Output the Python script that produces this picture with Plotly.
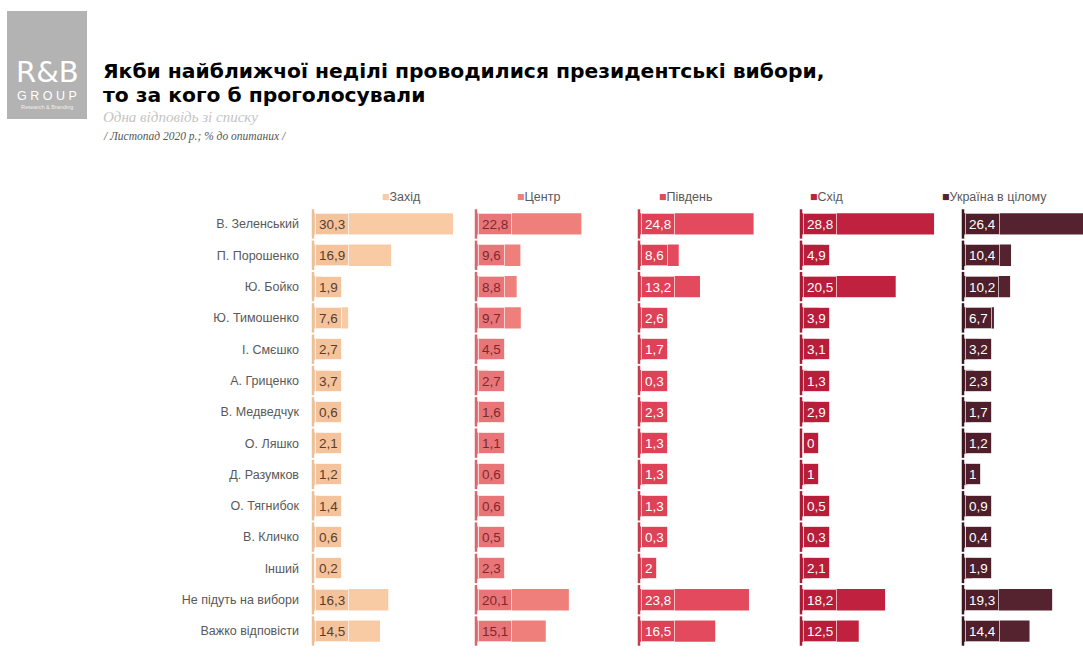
import plotly.graph_objects as go
from plotly.subplots import make_subplots

W, H = 1083, 670

categories = ["В. Зеленський", "П. Порошенко", "Ю. Бойко", "Ю. Тимошенко", "І. Смєшко",
              "А. Гриценко", "В. Медведчук", "О. Ляшко", "Д. Разумков", "О. Тягнибок",
              "В. Кличко", "Інший", "Не підуть на вибори", "Важко відповісти"]

region_names = ["Захід", "Центр", "Південь", "Схід", "Україна в цілому"]

zakhid = [30.3, 16.9, 1.9, 7.6, 2.7, 3.7, 0.6, 2.1, 1.2, 1.4, 0.6, 0.2, 16.3, 14.5]
tsentr = [22.8, 9.6, 8.8, 9.7, 4.5, 2.7, 1.6, 1.1, 0.6, 0.6, 0.5, 2.3, 20.1, 15.1]
pivden = [24.8, 8.6, 13.2, 2.6, 1.7, 0.3, 2.3, 1.3, 1.3, 1.3, 0.3, 2, 23.8, 16.5]
skhid = [28.8, 4.9, 20.5, 3.9, 3.1, 1.3, 2.9, 0, 1, 0.5, 0.3, 2.1, 18.2, 12.5]
ukraina = [26.4, 10.4, 10.2, 6.7, 3.2, 2.3, 1.7, 1.2, 1, 0.9, 0.4, 1.9, 19.3, 14.4]

series = [zakhid, tsentr, pivden, skhid, ukraina]

title_lines = ["Якби найближчої неділі проводилися президентські вибори,",
               "то за кого б проголосували"]
subtitle = "Одна відповідь зі списку"
note = "/ Листопад 2020 р.; % до опитаних /"

bar_colors = ["#F8CBA4", "#EE7F7A", "#E34A5E", "#C0213F", "#55232F"]
box_colors = ["#F4C39B", "#E97578", "#DE4257", "#B81D3A", "#4E1F2B"]
line_colors = ["#E9C09C", "#D9686C", "#C93A4E", "#A51A35", "#3A1720"]
text_colors = ["#5A3D2B", "#7A2A2E", "#FFFFFF", "#FFFFFF", "#FFFFFF"]

# pixel layout
scale = 4.62  # px per percent
panel_x0 = [313, 476, 639, 801, 963]
panel_x1 = [473, 636, 799, 961, 1083]
legend_x = [380, 515, 657, 808, 940]
row_top, row_bottom = 208.3, 646.7

fig = make_subplots(rows=1, cols=5, shared_yaxes=False, horizontal_spacing=0.0)

def fmt(v):
    return f"{v:g}".replace(".", ",")

for i, vals in enumerate(series):
    col = i + 1
    fig.add_trace(go.Bar(
        x=vals, y=categories, orientation="h",
        marker=dict(color=bar_colors[i], line=dict(width=0)),
        width=0.68, hoverinfo="x+y", showlegend=False,
    ), row=1, col=col)
    fig.add_trace(go.Scatter(
        x=[0] * len(categories), y=categories, mode="markers",
        marker=dict(symbol="line-ns", size=21, line=dict(width=2.5, color=line_colors[i])),
        cliponaxis=False, hoverinfo="skip", showlegend=False,
    ), row=1, col=col)
    xa = "x" if i == 0 else f"x{col}"
    ya = "y" if i == 0 else f"y{col}"
    for cat, v in zip(categories, vals):
        fig.add_annotation(
            xref=xa, yref=ya, x=0, y=cat, xanchor="left", yanchor="middle",
            xshift=2, text=fmt(v), showarrow=False,
            font=dict(family="Liberation Sans, Arial", size=13.5, color=text_colors[i]),
            bgcolor=box_colors[i], bordercolor="rgba(255,255,255,0.65)",
            borderwidth=1, borderpad=3, height=14,
        )
    # legend entry
    fig.add_annotation(
        xref="paper", yref="paper", x=legend_x[i] / W, y=(H - 197) / H,
        xanchor="left", yanchor="middle", showarrow=False,
        text=f"<span style='color:{bar_colors[i]}'>■</span>{region_names[i]}",
        font=dict(family="Liberation Sans, Arial", size=12.5, color="#595959"),
    )

for i in range(5):
    col = i + 1
    dom = [panel_x0[i] / W, panel_x1[i] / W]
    rng = [0, (panel_x1[i] - panel_x0[i]) / scale]
    fig.update_xaxes(domain=dom, range=rng, visible=False, fixedrange=True, row=1, col=col)
    fig.update_yaxes(
        domain=[(H - row_bottom) / H, (H - row_top) / H],
        categoryorder="array", categoryarray=categories, range=[13.5, -0.5],
        showgrid=False, zeroline=False, showline=False, ticks="",
        showticklabels=(i == 0), ticklabelstandoff=13,
        tickfont=dict(family="Liberation Sans, Arial", size=12.5, color="#595959"),
        row=1, col=col,
    )

# Title & subtitles
for line, ypx in zip(title_lines, [70.5, 94.5]):
    fig.add_annotation(xref="paper", yref="paper", x=101 / W, y=(H - ypx) / H,
                       xanchor="left", yanchor="middle", showarrow=False, align="left",
                       text=f"<b>{line}</b>",
                       font=dict(family="DejaVu Sans, Liberation Sans", size=20.3, color="#000000"))
fig.add_annotation(xref="paper", yref="paper", x=101 / W, y=(H - 117) / H,
                   xanchor="left", yanchor="middle", showarrow=False,
                   text=f"<i>{subtitle}</i>",
                   font=dict(family="Liberation Serif, Times New Roman", size=15, color="#C4C4C4"))
fig.add_annotation(xref="paper", yref="paper", x=101 / W, y=(H - 137) / H,
                   xanchor="left", yanchor="middle", showarrow=False,
                   text=f"<i>{note}</i>",
                   font=dict(family="Liberation Serif, Times New Roman", size=11.5, color="#555555"))

# Logo
fig.add_shape(type="rect", xref="paper", yref="paper",
              x0=7 / W, x1=87 / W, y0=(H - 119) / H, y1=(H - 11) / H,
              fillcolor="#B3B3B3", line=dict(width=0), layer="below")
fig.add_annotation(xref="paper", yref="paper", x=47 / W, y=(H - 72) / H,
                   xanchor="center", yanchor="middle", showarrow=False, text="R&B",
                   font=dict(family="DejaVu Sans, Liberation Sans", size=29, color="#FFFFFF"))
fig.add_annotation(xref="paper", yref="paper", x=47 / W, y=(H - 96) / H,
                   xanchor="center", yanchor="middle", showarrow=False, text="G R O U P",
                   font=dict(family="Liberation Sans, Arial", size=12.5, color="#FFFFFF"))
fig.add_annotation(xref="paper", yref="paper", x=47 / W, y=(H - 107) / H,
                   xanchor="center", yanchor="middle", showarrow=False, text="Research & Branding",
                   font=dict(family="Liberation Sans, Arial", size=5.5, color="#F0F0F0"))

fig.update_layout(
    width=W, height=H, autosize=False,
    margin=dict(l=0, r=0, t=0, b=0),
    paper_bgcolor="#FFFFFF", plot_bgcolor="rgba(0,0,0,0)",
    barmode="overlay", showlegend=False,
)

fig.write_html("out.html")
